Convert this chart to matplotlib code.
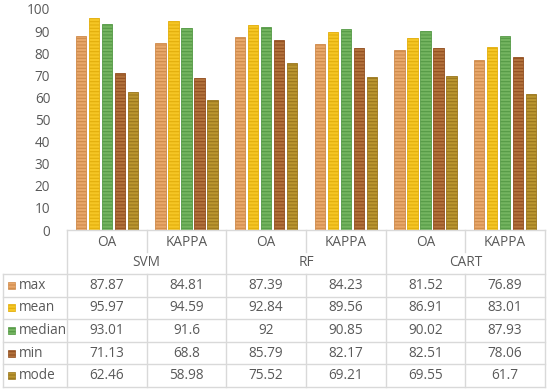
import numpy as np
import matplotlib
matplotlib.use('Agg')
import matplotlib.pyplot as plt
from matplotlib.lines import Line2D
from matplotlib.patches import Rectangle

groups = ['SVM', 'RF', 'CART']
metrics = ['OA', 'KAPPA', 'OA', 'KAPPA', 'OA', 'KAPPA']
series = ['max', 'mean', 'median', 'min', 'mode']
max_vals = [87.87, 84.81, 87.39, 84.23, 81.52, 76.89]
mean_vals = [95.97, 94.59, 92.84, 89.56, 86.91, 83.01]
median_vals = [93.01, 91.6, 92, 90.85, 90.02, 87.93]
min_vals = [71.13, 68.8, 85.79, 82.17, 82.51, 78.06]
mode_vals = [62.46, 58.98, 75.52, 69.21, 69.55, 61.7]
values = [max_vals, mean_vals, median_vals, min_vals, mode_vals]

face = ['#E8A76A', '#F5C625', '#74B460', '#B2723C', '#BA9630']
hatchc = ['#CF8A4A', '#E3AE0C', '#559A46', '#934F20', '#9A761C']

plt.rcParams['font.family'] = ['Open Sans', 'DejaVu Sans']
plt.rcParams['hatch.linewidth'] = 0.8
txt = '#595959'
grid = '#D9D9D9'
fs = 9.8

W, H = 550, 390
fig = plt.figure(figsize=(5.5, 3.9), dpi=100)
ax = fig.add_axes([67 / W, 1 - 230 / H, (545 - 67) / W, (230 - 9) / H])

x = np.arange(len(metrics))
step = 0.1625
width = 0.13
for i, (name, vals) in enumerate(zip(series, values)):
    ax.bar(x + (i - 2) * step, vals, width, color=face[i], edgecolor=hatchc[i],
           hatch='-----', linewidth=0.6, label=name)

ax.set_xlim(-0.5, len(metrics) - 0.5)
ax.set_ylim(0, 100)
ax.set_yticks(range(0, 101, 10))
ax.tick_params(axis='y', length=0, pad=12, labelsize=fs, labelcolor=txt)
ax.set_xticks([])
for s in ['top', 'right', 'left', 'bottom']:
    ax.spines[s].set_visible(False)


def px(xp, yp):
    return xp / W, 1 - yp / H


def hline(x0, x1, y):
    a, b = px(x0, y), px(x1, y)
    fig.add_artist(Line2D([a[0], b[0]], [a[1], b[1]], color=grid, lw=1))


def vline(xx, y0, y1):
    a, b = px(xx, y0), px(xx, y1)
    fig.add_artist(Line2D([a[0], b[0]], [a[1], b[1]], color=grid, lw=1))


def put(xx, yy, s, ha='center'):
    fx, fy = px(xx, yy)
    fig.text(fx, fy, s, ha=ha, va='center', fontsize=fs, color=txt)


col_edges = [67 + k * (545 - 67) / 6 for k in range(7)]
top, mid, data_top = 230, 252, 274
row_h = 22.6
rows_y = [data_top + r * row_h for r in range(6)]

# header
hline(67, 545, top)
for k in range(7):
    if k in (0, 2, 4, 6):
        vline(col_edges[k], top, rows_y[-1])
    else:
        vline(col_edges[k], top, mid)
        vline(col_edges[k], data_top, rows_y[-1])
for k, m in enumerate(metrics):
    put((col_edges[k] + col_edges[k + 1]) / 2, 242, m)
for g, name in enumerate(groups):
    put((col_edges[2 * g] + col_edges[2 * g + 2]) / 2, 263, name)

# data rows
for r in range(6):
    hline(3, 545, rows_y[r])
vline(3, data_top, rows_y[-1])
for i, name in enumerate(series):
    yc = (rows_y[i] + rows_y[i + 1]) / 2
    fx, fy = px(8, yc + 3.5)
    fig.add_artist(Rectangle((fx, fy), 7 / W, 7 / H, transform=fig.transFigure,
                             facecolor=face[i], edgecolor=hatchc[i], hatch='-----', lw=0.5))
    put(19, yc, name, ha='left')
    for k in range(6):
        put((col_edges[k] + col_edges[k + 1]) / 2, yc, f'{values[i][k]:g}')

fig.savefig('out.png', dpi=100)
